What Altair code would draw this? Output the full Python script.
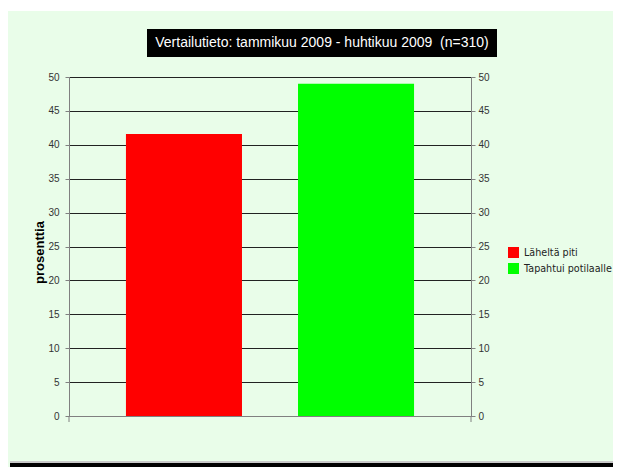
import altair as alt
import pandas as pd

series = ["Läheltä piti", "Tapahtui potilaalle"]
values = [41.6, 49.0]
colors = ["#FF0000", "#00FF00"]
title_text = "Vertailutieto: tammikuu 2009 - huhtikuu 2009\u00a0\u00a0(n=310)"
y_ticks = [0, 5, 10, 15, 20, 25, 30, 35, 40, 45, 50]

df = pd.DataFrame({"series": series, "value": values})
one = alt.Data(values=[{"a": 1}])

W, H = 402, 339

xenc = alt.X("series:N", sort=series,
             scale=alt.Scale(paddingInner=0.3256, paddingOuter=0.331),
             axis=alt.Axis(labels=False, ticks=False, title=None, domainColor="#808080",
                           domainWidth=1, zindex=1))

bars = alt.Chart(df).mark_bar().encode(
    x=xenc,
    y=alt.Y("value:Q", scale=alt.Scale(domain=[0, 50]),
            axis=alt.Axis(values=y_ticks, title="prosenttia", titleFont="Liberation Sans",
                          titleFontSize=13, titleFontWeight="bold", titleColor="#000",
                          titleAngle=-90, titleX=-30, titleY=175, titleAlign="center",
                          titleBaseline="middle",
                          labelFont="Liberation Sans", labelFontSize=10, labelColor="#333",
                          labelPadding=6, tickSize=4, tickColor="#808080",
                          domainColor="#808080", gridColor="#222", gridWidth=1)),
    color=alt.Color("series:N", sort=series,
                    scale=alt.Scale(domain=series, range=colors),
                    legend=alt.Legend(title=None, orient="none", legendX=439, legendY=170,
                                      symbolType="square", symbolSize=121, symbolStrokeWidth=0,
                                      labelFont="DejaVu Sans", labelFontSize=9.6,
                                      labelColor="#222", labelOffset=5, rowPadding=5,
                                      padding=0, labelLimit=300)),
)

right = alt.Chart(df).mark_bar(opacity=0).encode(
    x=xenc,
    y=alt.Y("value:Q", scale=alt.Scale(domain=[0, 50]),
            axis=alt.Axis(orient="right", values=y_ticks, title=None, grid=False,
                          labelFont="Liberation Sans", labelFontSize=10, labelColor="#333",
                          labelPadding=3, tickSize=4, tickColor="#808080",
                          domainColor="#808080")),
)

end_ticks = alt.Chart(one).mark_rule(color="#808080").encode(
    x=alt.value(0), y=alt.value(H), y2=alt.value(H + 6))
end_ticks2 = alt.Chart(one).mark_rule(color="#808080").encode(
    x=alt.value(W), y=alt.value(H), y2=alt.value(H + 6))

top_white = alt.Chart(one).mark_rect(color="white").encode(
    x=alt.value(-61), x2=alt.value(W + 142), y=alt.value(-69), y2=alt.value(-66))
bottom_gray = alt.Chart(one).mark_rect(color="#C8C8C8").encode(
    x=alt.value(-59), x2=alt.value(W + 142), y=alt.value(384), y2=alt.value(386))
bottom_black = alt.Chart(one).mark_rect(color="black").encode(
    x=alt.value(-59), x2=alt.value(W + 142), y=alt.value(386), y2=alt.value(392))

title_box = alt.Chart(one).mark_rect(color="black").encode(
    x=alt.value(78), x2=alt.value(428), y=alt.value(-48), y2=alt.value(-20))
title = alt.Chart(one).mark_text(color="white", font="Liberation Sans", fontSize=14,
                                 align="center", baseline="middle", text=title_text).encode(
    x=alt.value(253), y=alt.value(-34))

chart = alt.layer(
    top_white, bottom_gray, bottom_black, title_box, title,
    bars, right, end_ticks, end_ticks2
).resolve_scale(y="shared").resolve_axis(y="independent").properties(
    width=W, height=H,
    autosize=alt.AutoSizeParams(type="none"),
    padding={"left": 61, "top": 69, "right": 142, "bottom": 51},
    background="#E9FDE9",
).configure_view(stroke=None)

chart.save("out.html", embed_options={"renderer": "svg", "actions": False})
